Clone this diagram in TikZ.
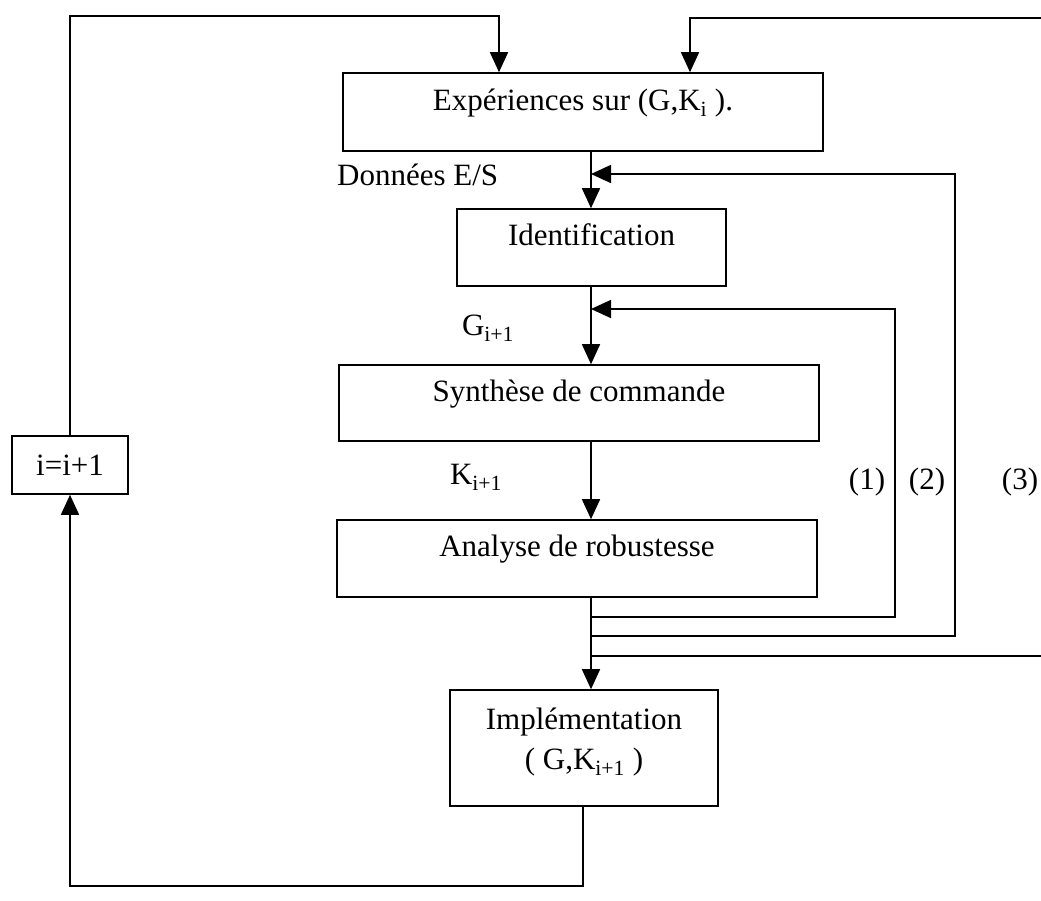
\documentclass[tikz,border=0pt]{standalone}
\usepackage{fontspec}
\setmainfont{Liberation Serif}
\usetikzlibrary{arrows.meta}
\begin{document}
\begin{tikzpicture}[x=1pt,y=-1pt,
  box/.style={draw,line width=1.6pt,rectangle,inner sep=0pt,
    font=\fontsize{31}{40}\selectfont,align=center},
  raised/.style={text depth=25pt},
  lbl/.style={inner sep=0pt,font=\fontsize{31}{35}\selectfont},
  wire/.style={line width=1.6pt},
  arr/.style={wire,-{Triangle[length=20pt,width=18pt]}}]
\useasboundingbox (0,0) rectangle (1041,900);
\fill[white] (0,0) rectangle (1041,900);

% blocks of the loop
\node[box,raised,minimum width=480pt,minimum height=78pt] (exp) at (583,112)
  {Expériences sur (G,K\textsubscript{i} ).};
\node[box,raised,minimum width=269pt,minimum height=77pt] (ident) at (591.5,247.5)
  {Identification};
\node[box,raised,minimum width=480pt,minimum height=76pt] (synth) at (579,403)
  {Synthèse de commande};
\node[box,raised,minimum width=480pt,minimum height=77pt] (ana) at (577,558.5)
  {Analyse de robustesse};
\node[box,text depth=18pt,minimum width=268pt,minimum height=116pt] (impl) at (584,748)
  {Implémentation\\( G,K\textsubscript{i+1} )};
\node[box,minimum width=116pt,minimum height=58pt] (inc) at (70,465)
  {i=i+1};

% labels
\node[lbl,anchor=base west] (don) at (337,185) {Données E/S};
\node[lbl] (glab) at (488,328) {G\textsubscript{i+1}};
\node[lbl] (klab) at (476,477) {K\textsubscript{i+1}};
\node[lbl] (l1) at (867,482) {(1)};
\node[lbl] (l2) at (927,482) {(2)};
\node[lbl] (l3) at (1020,482) {(3)};

% reference points of the wiring
\coordinate (mx) at (591,0);
\coordinate (bx) at (583,0);
\coordinate (m2) at (591,174);
\coordinate (m1) at (591,309);
\coordinate (t1) at (591,617);
\coordinate (t2) at (591,636);
\coordinate (t3) at (591,656);
\coordinate (f1) at (895,309);
\coordinate (f2) at (955,174);
\coordinate (e3) at (1041,656);
\coordinate (e4) at (1041,18);
\coordinate (k1t) at (499,16);
\coordinate (k2) at (690,0);
\coordinate (bl) at (70,886);

% main chain
\draw[arr] (exp.south -| mx) -- (ident.north -| mx);
\draw[arr] (ident.south -| mx) -- (synth.north -| mx);
\draw[arr] (synth.south -| mx) -- (ana.north -| mx);
\draw[arr] (ana.south -| mx) -- (impl.north -| mx);

% feedback (1), (2), (3)
\draw[arr] (t1) -| (f1) -- (m1);
\draw[arr] (t2) -| (f2) -- (m2);
\draw[wire] (t3) -- (e3);
\draw[arr] (e4) -| (exp.north -| k2);

% outer iteration loop
\draw[arr] (impl.south -| bx) |- (bl) -- (inc.south);
\draw[arr] (inc.north) |- (k1t) -- (exp.north -| k1t);
\end{tikzpicture}
\end{document}
